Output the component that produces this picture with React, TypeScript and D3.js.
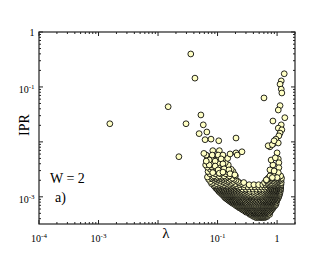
import React from 'react';
import * as d3 from 'd3';

const W = 332;
const H = 257;
const plot = { left: 39, right: 295, top: 32, bottom: 224 };

const xDomain: [number, number] = [1e-4, 2];
const yDomain: [number, number] = [3.2e-4, 1];

const xTickLabels = [
  { v: 1e-4, base: '10', exp: '-4' },
  { v: 1e-3, base: '10', exp: '-3' },
  { v: 1e-1, base: '10', exp: '-1' },
  { v: 1, base: '1', exp: '' },
];
const yTickLabels = [
  { v: 1, base: '1', exp: '' },
  { v: 1e-1, base: '10', exp: '-1' },
  { v: 1e-3, base: '10', exp: '-3' },
];

// All data stored as [log10(lambda), log10(IPR)]
const outliers: [number, number][] = [
  [-2.81, -1.67], [-1.45, -0.40], [-1.38, -0.84], [-1.83, -1.36], [-1.28, -1.51],
  [-1.53, -1.67], [-1.24, -1.69], [-1.65, -2.27], [-1.31, -1.85], [-1.18, -1.82],
  [-1.21, -1.96], [-1.11, -1.95], [-0.98, -1.98], [-0.69, -1.93], [-0.22, -1.20],
];

const rightArm: [number, number][] = [
  [0.12, -0.76], [0.07, -0.89], [0.05, -0.95], [0.07, -1.04], [0.08, -1.11],
  [0.05, -1.34], [0.02, -1.42], [0.13, -1.56], [-0.07, -1.62], [0.07, -1.69],
  [0.02, -1.75], [0.08, -1.78], [0.05, -1.84], [0.03, -1.89], [-0.02, -1.95],
  [-0.12, -2.09], [-0.07, -2.04], [0.02, -2.02], [0.0, -2.2], [0.02, -2.31],
  [0.03, -2.38], [0.03, -2.47], [0.02, -2.56], [0.0, -2.65],
  [-0.07, -2.42], [-0.10, -2.33], [-0.03, -2.29], [-0.12, -2.51], [-0.15, -2.07],
  [-0.08, -2.05], [-0.05, -1.98], [-0.08, -2.65], [-0.05, -2.53], [-0.18, -2.69],
];

const leftCloud: [number, number][] = [
  [-1.19, -2.24], [-1.08, -2.16], [-0.97, -2.16], [-1.09, -2.24], [-0.99, -2.24],
  [-0.91, -2.24], [-0.79, -2.22], [-0.69, -2.20], [-1.14, -2.33], [-1.04, -2.35],
  [-0.94, -2.31], [-1.14, -2.42], [-1.04, -2.44], [-0.91, -2.40], [-0.99, -2.51],
  [-0.89, -2.49], [-0.81, -2.51], [-1.08, -2.56], [-0.97, -2.57], [-0.91, -2.55],
  [-0.79, -2.58], [-0.71, -2.60], [-0.67, -2.24], [-0.59, -2.18], [-1.23, -2.21],
  [-1.19, -2.35],
];

// dense part: rows of log10(IPR) with the log10(lambda) values on that row
const denseRows: [number, number[]][] = [
  [-3.38, [-0.35, -0.31, -0.27, -0.245, -0.21]],
  [-3.36, [-0.39, -0.33, -0.29, -0.26, -0.23, -0.20, -0.17]],
  [-3.34, [-0.42, -0.38, -0.345, -0.31, -0.285, -0.25, -0.22, -0.185, -0.16]],
  [-3.32, [-0.455, -0.42, -0.39, -0.36, -0.335, -0.30, -0.275, -0.245, -0.215, -0.19, -0.155, -0.125]],
  [-3.30, [-0.47, -0.445, -0.40, -0.375, -0.35, -0.32, -0.29, -0.265, -0.23, -0.205, -0.17, -0.14]],
  [-3.28, [-0.52, -0.49, -0.455, -0.425, -0.395, -0.365, -0.335, -0.305, -0.275, -0.245, -0.215, -0.185, -0.155, -0.125]],
  [-3.26, [-0.54, -0.50, -0.475, -0.44, -0.405, -0.385, -0.35, -0.325, -0.29, -0.255, -0.235, -0.20, -0.175, -0.14, -0.105]],
  [-3.24, [-0.575, -0.545, -0.515, -0.49, -0.455, -0.42, -0.395, -0.365, -0.335, -0.305, -0.275, -0.245, -0.215, -0.185, -0.16, -0.125, -0.095]],
  [-3.22, [-0.60, -0.565, -0.53, -0.505, -0.47, -0.435, -0.41, -0.375, -0.355, -0.32, -0.29, -0.26, -0.235, -0.20, -0.17, -0.145, -0.11, -0.08]],
  [-3.20, [-0.635, -0.61, -0.58, -0.545, -0.515, -0.485, -0.455, -0.425, -0.395, -0.365, -0.34, -0.305, -0.275, -0.25, -0.215, -0.185, -0.155, -0.125, -0.095, -0.065]],
  [-3.18, [-0.66, -0.625, -0.595, -0.56, -0.535, -0.50, -0.465, -0.445, -0.41, -0.38, -0.35, -0.325, -0.29, -0.265, -0.23, -0.20, -0.175, -0.14, -0.115, -0.08, -0.055]],
  [-3.16, [-0.69, -0.66, -0.63, -0.60, -0.57, -0.54, -0.51, -0.48, -0.45, -0.42, -0.385, -0.35, -0.31, -0.27, -0.24, -0.205, -0.18, -0.15, -0.12, -0.09, -0.06, -0.035]],
  [-3.14, [-0.71, -0.675, -0.645, -0.61, -0.585, -0.55, -0.52, -0.495, -0.46, -0.43, -0.395, -0.365, -0.32, -0.285, -0.25, -0.225, -0.19, -0.165, -0.13, -0.105, -0.07, -0.045, -0.02]],
  [-3.12, [-0.745, -0.715, -0.685, -0.655, -0.625, -0.595, -0.565, -0.535, -0.505, -0.47, -0.435, -0.395, -0.355, -0.315, -0.275, -0.24, -0.205, -0.175, -0.145, -0.115, -0.085, -0.06, -0.03]],
  [-3.10, [-0.77, -0.735, -0.70, -0.675, -0.64, -0.61, -0.585, -0.55, -0.525, -0.485, -0.45, -0.415, -0.375, -0.335, -0.295, -0.255, -0.225, -0.19, -0.165, -0.13, -0.10, -0.075, -0.04, -0.01]],
  [-3.08, [-0.795, -0.765, -0.735, -0.705, -0.675, -0.645, -0.615, -0.585, -0.55, -0.51, -0.47, -0.43, -0.39, -0.35, -0.31, -0.27, -0.235, -0.2, -0.17, -0.14, -0.11, -0.08, -0.05, -0.02]],
  [-3.06, [-0.82, -0.785, -0.755, -0.72, -0.695, -0.66, -0.635, -0.60, -0.565, -0.535, -0.49, -0.455, -0.41, -0.375, -0.33, -0.29, -0.25, -0.215, -0.185, -0.15, -0.125, -0.09, -0.065, -0.03, 0.0]],
  [-3.04, [-0.845, -0.815, -0.785, -0.755, -0.725, -0.695, -0.665, -0.635, -0.60, -0.56, -0.52, -0.475, -0.43, -0.385, -0.34, -0.29, -0.245, -0.205, -0.17, -0.135, -0.105, -0.075, -0.045, -0.015, 0.01]],
  [-3.02, [-0.87, -0.835, -0.80, -0.775, -0.74, -0.715, -0.68, -0.655, -0.62, -0.58, -0.545, -0.50, -0.455, -0.41, -0.36, -0.315, -0.265, -0.225, -0.185, -0.155, -0.12, -0.095, -0.06, -0.03, 0.0, 0.02]],
  [-3.00, [-0.885, -0.85, -0.82, -0.79, -0.755, -0.725, -0.695, -0.66, -0.625, -0.58, -0.535, -0.49, -0.44, -0.39, -0.34, -0.285, -0.24, -0.195, -0.16, -0.125, -0.095, -0.065, -0.035, -0.005, 0.025]],
  [-2.98, [-0.90, -0.865, -0.835, -0.80, -0.775, -0.74, -0.71, -0.68, -0.645, -0.60, -0.56, -0.515, -0.47, -0.42, -0.365, -0.31, -0.26, -0.215, -0.175, -0.14, -0.11, -0.08, -0.055, -0.02, 0.01, 0.035]],
  [-2.96, [-0.92, -0.885, -0.855, -0.82, -0.79, -0.76, -0.725, -0.695, -0.66, -0.615, -0.57, -0.525, -0.475, -0.42, -0.36, -0.30, -0.245, -0.195, -0.155, -0.12, -0.085, -0.055, -0.025, 0.005, 0.035]],
  [-2.94, [-0.94, -0.905, -0.87, -0.845, -0.81, -0.78, -0.745, -0.715, -0.675, -0.635, -0.59, -0.545, -0.50, -0.445, -0.385, -0.325, -0.265, -0.215, -0.17, -0.135, -0.10, -0.07, -0.04, -0.01, 0.02, 0.045]],
  [-2.92, [-0.96, -0.925, -0.89, -0.86, -0.825, -0.79, -0.755, -0.72, -0.68, -0.635, -0.59, -0.54, -0.48, -0.36, -0.245, -0.195, -0.155, -0.115, -0.08, -0.05, -0.015, 0.015, 0.04]],
  [-2.90, [-0.98, -0.94, -0.905, -0.875, -0.84, -0.805, -0.77, -0.735, -0.695, -0.655, -0.61, -0.565, -0.51, -0.455, -0.395, -0.335, -0.275, -0.22, -0.175, -0.135, -0.095, -0.065, -0.035, 0.0, 0.025, 0.055]],
  [-2.88, [-0.99, -0.955, -0.92, -0.885, -0.85, -0.815, -0.78, -0.74, -0.70, -0.655, -0.60, -0.54, -0.30, -0.2, -0.155, -0.115, -0.08, -0.045, -0.015, 0.015, 0.045]],
  [-2.86, [-1.01, -0.975, -0.93, -0.90, -0.86, -0.825, -0.785, -0.75, -0.71, -0.67, -0.625, -0.575, -0.52, -0.465, -0.405, -0.345, -0.285, -0.23, -0.18, -0.14, -0.10, -0.065, -0.03, 0.005, 0.035, 0.06]],
  [-2.84, [-1.03, -0.99, -0.95, -0.91, -0.87, -0.83, -0.79, -0.745, -0.70, -0.65, -0.15, -0.11, -0.075, -0.04, 0.0, 0.03, 0.06]],
  [-2.82, [-1.04, -0.995, -0.96, -0.92, -0.885, -0.84, -0.80, -0.76, -0.715, -0.665, -0.615, -0.555, -0.49, -0.43, -0.37, -0.31, -0.26, -0.21, -0.165, -0.12, -0.08, -0.045, -0.01, 0.02, 0.05]],
  [-2.80, [-1.06, -1.01, -0.965, -0.92, -0.875, -0.83, -0.785, -0.735, -0.69, -0.13, -0.09, -0.05, -0.015, 0.02, 0.055]],
  [-2.78, [-1.05, -0.96, -0.88, -0.80, -0.72, -0.63, -0.55, -0.47, -0.39, -0.31, -0.24, -0.19, -0.135, -0.085, -0.04, 0.0, 0.03, 0.065]],
  [-2.76, [-1.10, -1.02, -0.94, -0.85, -0.78, -0.70, -0.60, -0.17, -0.11, -0.06, -0.02, 0.05]],
  [-2.74, [-1.08, -0.97, -0.87, -0.76, -0.64, -0.56, -0.21, -0.155, -0.095, -0.045, 0.0, 0.04, 0.07]],
  [-2.72, [-1.12, -1.01, -0.90, -0.83, -0.73, -0.66, -0.14, -0.03, 0.02]],
  [-2.70, [-1.04, -0.95, -0.87, -0.81, -0.69, -0.18, -0.12, -0.065, -0.01, 0.03, 0.065]],
  [-2.68, [-1.15, -1.07, -0.99, -0.91, -0.78, -0.72, -0.10, 0.01, 0.05]],
  [-2.66, [-1.10, -1.03, -0.95, -0.86, -0.75, -0.15, -0.085, -0.02, 0.04, 0.075]],
  [-2.64, [-1.17, -1.08, -1.00, -0.92, -0.83, -0.06, 0.03]],
  [-2.62, [-1.06, -0.97, -0.89, -0.80, -0.70, -0.12, -0.04, 0.02, 0.06]],
  [-2.58, [-1.13, -1.04, -0.95, -0.86, -0.76]],
  [-2.54, [-1.16, -1.06, -1.00, -0.93, -0.84, -0.74]],
  [-2.50, [-1.12, -1.06, -0.95, -0.86, -0.77]],
  [-2.46, [-1.17, -1.09, -1.00, -0.94, -0.85]],
  [-2.42, [-1.20, -1.09, -0.98, -0.88, -0.82]],
  [-2.38, [-1.15, -1.07, -0.99, -0.87]],
  [-2.30, [-1.17, -1.09, -0.99, -0.89, -0.83]],
];

const FONT = '"Liberation Serif", "Times New Roman", Times, serif';

export default function App() {
  const x = d3.scaleLog().domain(xDomain).range([plot.left, plot.right]);
  const y = d3.scaleLog().domain(yDomain).range([plot.bottom, plot.top]);

  const pts: [number, number][] = [];
  [...denseRows]
    .sort((a, b) => a[0] - b[0])
    .forEach(([ly, xs]) => xs.forEach((lx) => pts.push([lx, ly])));
  leftCloud.forEach((p) => pts.push(p));
  rightArm.forEach((p) => pts.push(p));
  outliers.forEach((p) => pts.push(p));

  const majorX = [1e-4, 1e-3, 1e-2, 1e-1, 1];
  const minorX: number[] = [];
  [1e-4, 1e-3, 1e-2, 1e-1, 1].forEach((d) => {
    for (let k = 2; k <= 9; k++) if (d * k <= xDomain[1]) minorX.push(d * k);
  });
  const majorY = [1e-3, 1e-2, 1e-1, 1];
  const minorY: number[] = [];
  [1e-4, 1e-3, 1e-2, 1e-1].forEach((d) => {
    for (let k = 2; k <= 9; k++) if (d * k >= yDomain[0]) minorY.push(d * k);
  });

  const tickColor = '#222';
  const maj = 4;
  const min = 2;
  const textStyle = { fontFamily: FONT };

  return (
    <svg width={W} height={H} style={{ position: 'absolute', left: 0, top: 0, background: '#fff', fontFamily: FONT }}>
      <rect x={0} y={0} width={W} height={H} fill="#fff" />
      <g>
        {pts.map(([lx, ly], i) => (
          <circle key={i} cx={x(Math.pow(10, lx))} cy={y(Math.pow(10, ly))} r={2.9}
            fill="#ffffc4" stroke="#000" strokeWidth={0.85} />
        ))}
      </g>
      <g stroke={tickColor} strokeWidth={1}>
        {majorX.map((v) => (
          <g key={'mx' + v}>
            <line x1={x(v)} x2={x(v)} y1={plot.bottom} y2={plot.bottom - maj} />
            <line x1={x(v)} x2={x(v)} y1={plot.top} y2={plot.top + maj} />
          </g>
        ))}
        {minorX.map((v) => (
          <g key={'nx' + v}>
            <line x1={x(v)} x2={x(v)} y1={plot.bottom} y2={plot.bottom - min} />
            <line x1={x(v)} x2={x(v)} y1={plot.top} y2={plot.top + min} />
          </g>
        ))}
        {majorY.map((v) => (
          <g key={'my' + v}>
            <line x1={plot.left} x2={plot.left + maj} y1={y(v)} y2={y(v)} />
            <line x1={plot.right} x2={plot.right - maj} y1={y(v)} y2={y(v)} />
          </g>
        ))}
        {minorY.map((v) => (
          <g key={'ny' + v}>
            <line x1={plot.left} x2={plot.left + min} y1={y(v)} y2={y(v)} />
            <line x1={plot.right} x2={plot.right - min} y1={y(v)} y2={y(v)} />
          </g>
        ))}
      </g>
      <rect x={plot.left} y={plot.top} width={plot.right - plot.left} height={plot.bottom - plot.top}
        fill="none" stroke={tickColor} strokeWidth={1.2} />
      {xTickLabels.map((t) => (
        <text key={'xl' + t.v} x={x(t.v)} y={241.5} textAnchor="middle" fontSize={10} fill="#000" style={textStyle}>
          {t.base}
          {t.exp && <tspan fontSize={7} dy={-4}>{t.exp}</tspan>}
        </text>
      ))}
      {yTickLabels.map((t) => (
        <text key={'yl' + t.v} x={34.5} y={y(t.v) + (t.exp ? 6 : 3.5)} textAnchor="end" fontSize={10} fill="#000" style={textStyle}>
          {t.base}
          {t.exp && <tspan fontSize={7} dy={-4}>{t.exp}</tspan>}
        </text>
      ))}
      <text x={166} y={238} textAnchor="middle" fontSize={15} fill="#000" style={textStyle}>λ</text>
      <text transform="translate(28.5,125) rotate(-90)" textAnchor="middle" fontSize={14} fill="#000" style={textStyle}>IPR</text>
      <text x={50} y={183} fontSize={14} fill="#000" style={textStyle}>W = 2</text>
      <text x={55} y={202} fontSize={14} fill="#000" style={textStyle}>a)</text>
    </svg>
  );
}
